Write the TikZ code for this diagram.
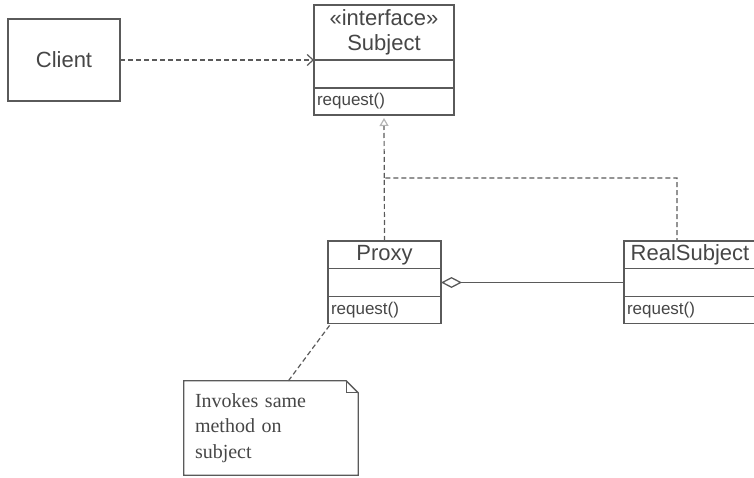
\documentclass[tikz,border=0pt]{standalone}
\usepackage{fontspec}
\setmainfont{Liberation Serif}
\setsansfont{Liberation Sans}
\usetikzlibrary{arrows.meta, positioning, calc}
\definecolor{umlline}{HTML}{5A5A5A}
\definecolor{umltext}{HTML}{464646}

\begin{document}
\begin{tikzpicture}[
    x=1pt, y=-1pt,
    >=Stealth,
    box/.style={
        draw=umlline,
        line width=1.4pt,
        inner sep=0pt,
        outer sep=0pt,
        text=umltext,
        font=\sffamily\fontsize{22}{25}\selectfont
    },
    classtitle/.style={box, align=center, minimum height=27.5},
    classpart/.style={box, minimum height=28},
    classmethod/.style={
        box,
        minimum height=27,
        inner xsep=3pt,
        align=left,
        font=\sffamily\fontsize{17}{20}\selectfont
    },
    dep/.style={
        draw=umlline,
        line width=1.2pt,
        dash pattern=on 5pt off 3pt
    },
    assoc/.style={
        draw=umlline,
        line width=1.3pt
    },
    notebox/.style={
        inner xsep=11pt,
        inner ysep=0pt,
        minimum width=174,
        minimum height=94,
        text width=152,
        align=left,
        text=umltext,
        font=\fontsize{20}{25.5}\selectfont
    }
]
\useasboundingbox (0,0) rectangle (754,478);

% Client
\node[box, minimum width=112, minimum height=82] (client) at (64,60) {Client};

% Subject interface
\node[classtitle, minimum width=140, minimum height=55] (subjecttitle) at (384,32.5)
    {\guillemotleft interface\guillemotright\\Subject};
\node[classpart, minimum width=140, below=0pt of subjecttitle] (subjectattr) {};
\node[classmethod, text width=134, below=0pt of subjectattr] (subjectmethod) {request()};

% Proxy
\node[classtitle, minimum width=113] (proxytitle) at (384.5,254.75) {Proxy};
\node[classpart, minimum width=113, below=0pt of proxytitle] (proxyattr) {};
\node[classmethod, text width=107, below=0pt of proxyattr] (proxymethod) {request()};

% RealSubject
\node[classtitle, minimum width=132] (realtitle) at (690,254.75) {RealSubject};
\node[classpart, minimum width=132, below=0pt of realtitle] (realattr) {};
\node[classmethod, text width=126, below=0pt of realattr] (realmethod) {request()};

% Note
\node[notebox] (note) at (271,428) {Invokes same\\method on\\subject};
\draw[assoc] (note.north west) -- ($(note.north east)+(-12,0)$)
    -- ($(note.north east)+(0,12)$) -- (note.south east)
    -- (note.south west) -- cycle;
\draw[assoc] ($(note.north east)+(-12,0)$) |- ($(note.north east)+(0,12)$);

% Dependency
\draw[dep, -{Straight Barb[length=6pt, width=11pt]}] (client.east) -- (subjecttitle.south west);

% Realization
\coordinate (fork) at ($(subjectmethod.south)!0.5!(proxytitle.north)$);
\coordinate (realtop) at ($(realtitle.north west)+(53,0)$);
\draw[dep] (proxytitle.north) -- (fork) -| (realtop);
\draw[dep, -{Triangle[open, length=8pt, width=9pt, color=umlline!45]}, shorten >=3pt]
    (fork) -- (subjectmethod.south);

% Aggregation
\draw[assoc, {Diamond[open, length=21pt, width=11pt]}-] (proxyattr.east) -- (realattr.west);

% Note anchor
\coordinate (notetip) at ($(note.north west)!0.6!(note.north east)$);
\draw[dep] (notetip) -- ($(proxymethod.south west)+(3,0)$);

\end{tikzpicture}
\end{document}
